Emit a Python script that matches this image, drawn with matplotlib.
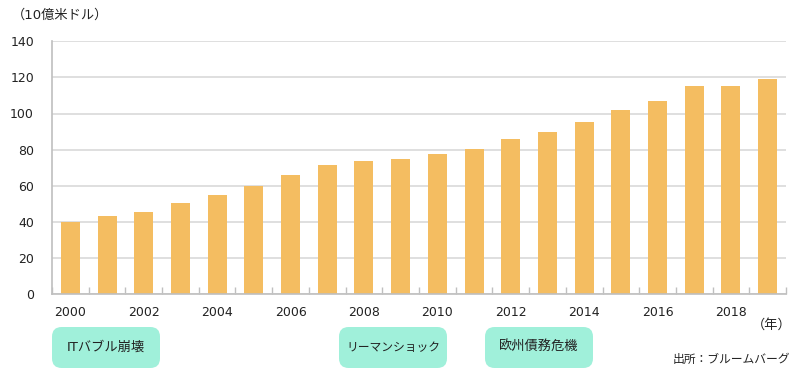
import numpy as np
import matplotlib.pyplot as plt
from matplotlib.patches import FancyBboxPatch

plt.rcParams['font.family'] = ['DejaVu Sans', 'Noto Sans CJK JP']

# データ（10億米ドル）
years = list(range(2000, 2020))
values = [40, 43.3, 45.6, 50.6, 55, 60, 66, 71.5, 73.8, 75,
          77.8, 80.5, 86, 90, 95.5, 102, 107, 115, 115.5, 119.3]
year_labels = [str(y) if y % 2 == 0 else '' for y in years]
events = ['ITバブル崩壊', 'リーマンショック', '欧州債務危機']

bar_color = '#F4BD61'
box_color = '#A0F0DA'
grid_color = '#D9D9D9'
spine_color = '#BFBFBF'
text_color = '#222222'

fig = plt.figure(figsize=(8.04, 3.74), dpi=100)
ax = fig.add_axes([52 / 804, 80 / 374, 734 / 804, 252.7 / 374])

x = np.arange(len(years))
ax.bar(x, values, width=0.52, color=bar_color, zorder=2)

ax.set_xlim(-0.5, len(years) - 0.5)
ax.set_ylim(0, 140)
ax.set_yticks(range(0, 141, 20))
ax.yaxis.grid(True, color=grid_color, linewidth=1.2, zorder=0)
ax.set_axisbelow(True)

ax.set_xticks(x)
ax.set_xticklabels(year_labels)
ax.set_xticks(np.arange(-0.5, len(years)), minor=True)
ax.tick_params(axis='x', which='major', length=0, pad=9, labelsize=9, colors=text_color)
ax.tick_params(axis='x', which='minor', direction='in', length=5, color=spine_color, width=1)
ax.tick_params(axis='y', length=0, pad=13, labelsize=9, colors=text_color)

for s in ['top', 'right']:
    ax.spines[s].set_visible(False)
for s in ['left', 'bottom']:
    ax.spines[s].set_color(spine_color)
    ax.spines[s].set_linewidth(1.2)

fig.text(12 / 804, 1 - 15 / 374, '（10億米ドル）', fontsize=9.5, va='center', ha='left', color=text_color)
fig.text(792 / 804, 1 - 325 / 374, '（年）', fontsize=9.5, va='center', ha='right', color=text_color)
fig.text(790 / 804, 1 - 359 / 374, '出所：ブルームバーグ', fontsize=8.5, va='center', ha='right', color=text_color)

# イベントの枠
box_left = [52, 339, 485]
label_size = [9.5, 8.5, 9.5]
for left, label, fs in zip(box_left, events, label_size):
    w, h = 108, 41
    bottom = 374 - 368
    p = FancyBboxPatch((left / 804, bottom / 374), w / 804, h / 374,
                       boxstyle='round,pad=0,rounding_size=0.012',
                       transform=fig.transFigure, facecolor=box_color,
                       edgecolor='none', mutation_aspect=804 / 374)
    fig.patches.append(p)
    fig.text((left + w / 2) / 804, (bottom + h / 2) / 374, label, fontsize=fs,
             ha='center', va='center', color=text_color)

plt.savefig('out.png', dpi=100)
